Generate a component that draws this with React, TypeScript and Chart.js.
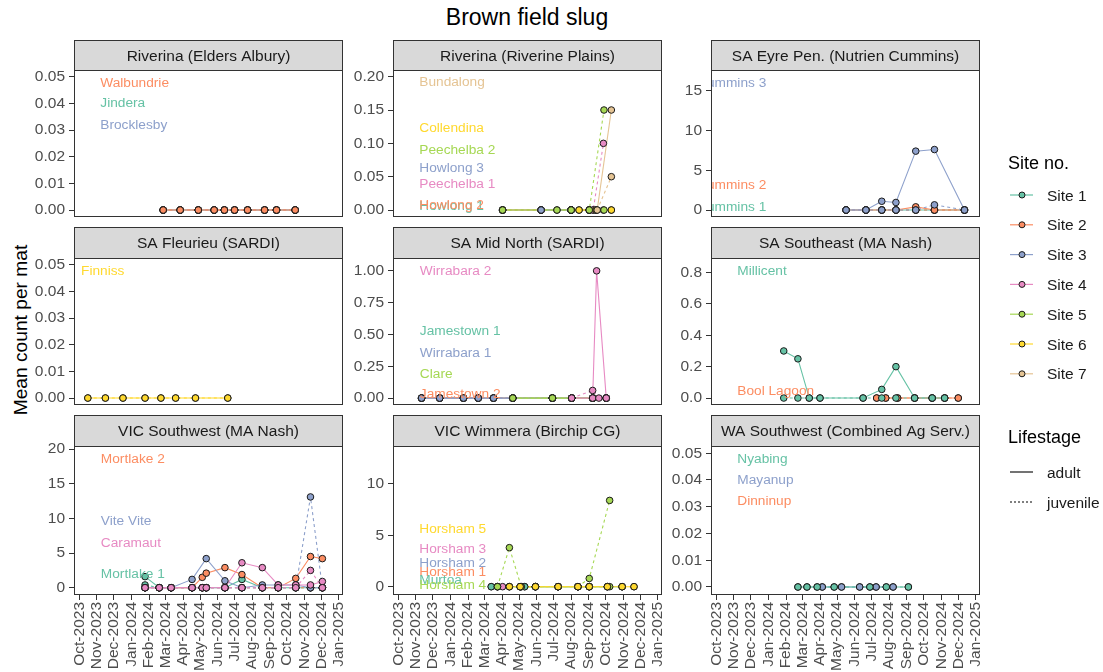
import React, { useEffect, useRef } from 'react';
import { Chart, registerables } from 'chart.js';

Chart.register(...registerables);

const FONT = '"Liberation Sans", Arial, Helvetica, sans-serif';

// ---------- shared scales ----------
const siteNames = ['Site 1', 'Site 2', 'Site 3', 'Site 4', 'Site 5', 'Site 6', 'Site 7'];
const siteColors = ['#66C2A5', '#FC8D62', '#8DA0CB', '#E78AC3', '#A6D854', '#FFD92F', '#E5C494'];
const monthTicks = ['2023-10-01', '2023-11-01', '2023-12-01', '2024-01-01', '2024-02-01', '2024-03-01', '2024-04-01', '2024-05-01', '2024-06-01', '2024-07-01', '2024-08-01', '2024-09-01', '2024-10-01', '2024-11-01', '2024-12-01', '2025-01-01'];
const monthLabels = ['Oct-2023', 'Nov-2023', 'Dec-2023', 'Jan-2024', 'Feb-2024', 'Mar-2024', 'Apr-2024', 'May-2024', 'Jun-2024', 'Jul-2024', 'Aug-2024', 'Sep-2024', 'Oct-2024', 'Nov-2024', 'Dec-2024', 'Jan-2025'];

// ---------- Riverina (Elders Albury) ----------
const albDates = ['2024-02-26', '2024-03-27', '2024-04-28', '2024-05-26', '2024-06-13', '2024-07-01', '2024-07-24', '2024-08-23', '2024-09-13', '2024-10-16'];
const albCounts = [0, 0, 0, 0, 0, 0, 0, 0, 0, 0];

// ---------- Riverina (Riverine Plains) ----------
const rpDates = ['2024-04-02', '2024-06-09', '2024-08-01', '2024-09-02'];
const rpZeros = [0, 0, 0, 0];
const rp3Dates = ['2024-06-09', '2024-08-01'];
const rp3Zeros = [0, 0];
const rp4Dates = ['2024-08-01', '2024-09-09', '2024-09-27'];
const rp4Adult = [0, 0, 0];
const rp4Juv = [0, 0, 0.1];
const rp5Dates = ['2024-04-02', '2024-07-07', '2024-08-01', '2024-09-02', '2024-09-28'];
const rp5Adult = [0, 0, 0, 0, 0];
const rp5Juv = [0, 0, 0, 0, 0.15];
const rp6Dates = ['2024-08-15', '2024-09-14', '2024-10-11'];
const rp6Zeros = [0, 0, 0];
const rp7Dates = ['2024-09-16', '2024-10-11'];
const rp7Adult = [0, 0.15];
const rp7Juv = [0, 0.05];

// ---------- SA Eyre Pen. (Nutrien Cummins) ----------
const eyDates = ['2024-05-17', '2024-06-21', '2024-07-19', '2024-08-13', '2024-09-17', '2024-10-20', '2024-12-12'];
const eyZeros = [0, 0, 0, 0, 0, 0, 0];
const ey2Adult = [0, 0, 0, 0, 0.4, 0, 0];
const ey3Adult = [0, 0, 1.1, 0.95, 7.4, 7.6, 0];
const ey3Juv = [0, 0, 0, 0, 0, 0.65, 0];

// ---------- SA Fleurieu (SARDI) ----------
const flDates = ['2023-10-16', '2023-11-16', '2023-12-17', '2024-01-25', '2024-02-22', '2024-03-19', '2024-04-23', '2024-06-19'];
const flCounts = [0, 0, 0, 0, 0, 0, 0, 0];

// ---------- SA Mid North (SARDI) ----------
const mnDates = ['2023-11-11', '2023-12-13', '2024-01-24', '2024-02-19', '2024-03-17', '2024-04-20', '2024-06-29', '2024-08-02', '2024-09-08', '2024-10-02'];
const mnZeros = [0, 0, 0, 0, 0, 0, 0, 0, 0, 0];
const mn4AdultDates = ['2024-08-02', '2024-09-08', '2024-09-15', '2024-10-02'];
const mn4Adult = [0, 0, 1.0, 0];
const mn4JuvDates = ['2024-08-02', '2024-09-08', '2024-09-19', '2024-10-02'];
const mn4Juv = [0, 0.06, 0, 0];
const mn5Dates = ['2024-04-20', '2024-06-29', '2024-08-02', '2024-09-08'];
const mn5Zeros = [0, 0, 0, 0];

// ---------- SA Southeast (MA Nash) ----------
const seDates = ['2024-01-28', '2024-02-22', '2024-03-13', '2024-04-01', '2024-06-16', '2024-07-19', '2024-08-13', '2024-09-15', '2024-10-16', '2024-11-07'];
const se1Adult = [0.3, 0.25, 0, 0, 0, 0.055, 0.2, 0, 0, 0];
const se1Juv = [0, 0, 0, 0, 0, 0, 0, 0, 0, 0];
const se2Dates = ['2024-07-10', '2024-07-26', '2024-08-16', '2024-09-15', '2024-10-16', '2024-11-07', '2024-12-01'];
const se2Zeros = [0, 0, 0, 0, 0, 0, 0];

// ---------- VIC Southwest (MA Nash) ----------
const swDates = ['2024-01-25', '2024-02-19', '2024-03-11', '2024-04-17', '2024-05-05', '2024-05-12', '2024-06-14', '2024-07-14', '2024-08-19', '2024-09-16', '2024-10-17', '2024-11-12', '2024-12-03'];
const sw1Adult = [1.6, 0, 0, 0, 0, 0, 0, 1.2, 0, 0, 0, 0, 0];
const sw1Juv = [0.4, 0, 0, 0, 0, 0, 0, 0, 0, 0, 0, 0, 0];
const sw2Adult = [0, 0, 0, 0, 1.5, 2.1, 2.9, 1.9, 0, 0, 1.35, 4.5, 4.2];
const sw2Juv = [0, 0, 0, 0, 0, 0, 0, 0, 0, 0, 0, 0, 0];
const sw3Dates = ['2024-01-25', '2024-02-19', '2024-03-11', '2024-04-17', '2024-05-12', '2024-06-14', '2024-07-14', '2024-08-19', '2024-09-16', '2024-10-17', '2024-11-12', '2024-12-03'];
const sw3Adult = [0, 0, 0, 1.2, 4.2, 1.0, 0, 0.4, 0.4, 0.4, 0, 0];
const sw3Juv = [0, 0, 0, 0, 0, 0, 0, 0, 0, 0, 13.1, 0];
const sw4Adult = [0, 0, 0, 0, 0, 0, 0, 3.6, 2.9, 0.4, 0.4, 0.4, 0.9];
const sw4Juv = [0, 0, 0, 0, 0, 0, 0, 0, 0, 0, 0, 2.5, 0];

// ---------- VIC Wimmera (Birchip CG) ----------
const wm1Dates = ['2024-03-13', '2024-03-24', '2024-05-03', '2024-05-11', '2024-05-30', '2024-07-09', '2024-08-13', '2024-09-02', '2024-10-04', '2024-10-30'];
const wm1Zeros = [0, 0, 0, 0, 0, 0, 0, 0, 0, 0];
const wm4Dates = ['2024-04-02'];
const wm4Zeros = [0];
const wm5Dates = ['2024-03-24', '2024-04-14', '2024-05-05', '2024-05-30', '2024-07-09', '2024-08-13', '2024-09-02', '2024-10-08'];
const wm5Adult = [0, 0, 0, 0, 0, 0, 0, 0];
const wm5Juv = [0, 3.8, 0, 0, 0, 0, 0.8, 8.4];
const wm6Dates = ['2024-04-14', '2024-05-03', '2024-05-30', '2024-07-09', '2024-08-13', '2024-09-02', '2024-10-04', '2024-10-30', '2024-11-20'];
const wm6Zeros = [0, 0, 0, 0, 0, 0, 0, 0, 0];

// ---------- WA Southwest (Combined Ag Serv.) ----------
const wa1Dates = ['2024-02-22', '2024-03-09', '2024-03-27', '2024-04-26', '2024-06-28', '2024-07-27', '2024-09-04'];
const wa1Zeros = [0, 0, 0, 0, 0, 0, 0];
const wa3Dates = ['2024-04-05', '2024-05-09', '2024-06-10', '2024-07-09', '2024-08-08'];
const wa3Zeros = [0, 0, 0, 0, 0];

// ---------- types ----------
type Stage = 'adult' | 'juvenile';
type Series = { site: number; stage: Stage; dates: string[]; values: number[] };
type SiteLabel = { text: string; site: number; date: string; y: number };
type Panel = {
  title: string; row: number; col: number;
  yMin: number; yMax: number; yTicks: number[]; yDigits: number;
  series: Series[]; labels: SiteLabel[];
};

const s = (site: number, stage: Stage, dates: string[], values: number[]): Series => ({ site, stage, dates, values });
const lab = (text: string, site: number, date: string, y: number): SiteLabel => ({ text, site, date, y });

const tick005 = [0, 0.01, 0.02, 0.03, 0.04, 0.05];

const panels: Panel[] = [
  {
    title: 'Riverina (Elders Albury)', row: 0, col: 0, yMin: -0.0025, yMax: 0.0525, yTicks: tick005, yDigits: 2,
    series: [
      s(1, 'adult', albDates, albCounts), s(1, 'juvenile', albDates, albCounts),
      s(3, 'adult', albDates, albCounts), s(3, 'juvenile', albDates, albCounts),
      s(2, 'adult', albDates, albCounts), s(2, 'juvenile', albDates, albCounts),
    ],
    labels: [lab('Walbundrie', 2, '2023-11-07', 0.0477), lab('Jindera', 1, '2023-11-07', 0.0401), lab('Brocklesby', 3, '2023-11-07', 0.0317)],
  },
  {
    title: 'Riverina (Riverine Plains)', row: 0, col: 1, yMin: -0.01, yMax: 0.21, yTicks: [0, 0.05, 0.1, 0.15, 0.2], yDigits: 2,
    series: [
      s(1, 'adult', rpDates, rpZeros), s(1, 'juvenile', rpDates, rpZeros),
      s(2, 'adult', rpDates, rpZeros), s(2, 'juvenile', rpDates, rpZeros),
      s(3, 'adult', rp3Dates, rp3Zeros), s(3, 'juvenile', rp3Dates, rp3Zeros),
      s(4, 'adult', rp4Dates, rp4Adult), s(4, 'juvenile', rp4Dates, rp4Juv),
      s(5, 'adult', rp5Dates, rp5Adult), s(5, 'juvenile', rp5Dates, rp5Juv),
      s(6, 'adult', rp6Dates, rp6Zeros), s(6, 'juvenile', rp6Dates, rp6Zeros),
      s(7, 'adult', rp7Dates, rp7Adult), s(7, 'juvenile', rp7Dates, rp7Juv),
    ],
    labels: [
      lab('Bundalong', 7, '2023-11-07', 0.191), lab('Collendina', 6, '2023-11-07', 0.122), lab('Peechelba 2', 5, '2023-11-07', 0.089),
      lab('Howlong 3', 3, '2023-11-07', 0.063), lab('Peechelba 1', 4, '2023-11-07', 0.038), lab('Howlong 1', 1, '2023-11-07', 0.0055),
      lab('Howlong 2', 2, '2023-11-07', 0.0065),
    ],
  },
  {
    title: 'SA Eyre Pen. (Nutrien Cummins)', row: 0, col: 2, yMin: -0.84, yMax: 17.6, yTicks: [0, 5, 10, 15], yDigits: 0,
    series: [
      s(1, 'adult', eyDates, eyZeros), s(1, 'juvenile', eyDates, eyZeros),
      s(2, 'adult', eyDates, ey2Adult), s(2, 'juvenile', eyDates, eyZeros),
      s(3, 'adult', eyDates, ey3Adult), s(3, 'juvenile', eyDates, ey3Juv),
    ],
    labels: [lab('Cummins 3', 3, '2023-08-28', 16.0), lab('Cummins 2', 2, '2023-08-28', 3.1), lab('Cummins 1', 1, '2023-08-28', 0.35)],
  },
  {
    title: 'SA Fleurieu (SARDI)', row: 1, col: 0, yMin: -0.0025, yMax: 0.0525, yTicks: tick005, yDigits: 2,
    series: [s(6, 'adult', flDates, flCounts), s(6, 'juvenile', flDates, flCounts)],
    labels: [lab('Finniss', 6, '2023-10-04', 0.0477)],
  },
  {
    title: 'SA Mid North (SARDI)', row: 1, col: 1, yMin: -0.052, yMax: 1.101, yTicks: [0, 0.25, 0.5, 0.75, 1.0], yDigits: 2,
    series: [
      s(1, 'adult', mnDates, mnZeros), s(1, 'juvenile', mnDates, mnZeros),
      s(2, 'adult', mnDates, mnZeros), s(2, 'juvenile', mnDates, mnZeros),
      s(3, 'adult', mnDates, mnZeros), s(3, 'juvenile', mnDates, mnZeros),
      s(5, 'adult', mn5Dates, mn5Zeros), s(5, 'juvenile', mn5Dates, mn5Zeros),
      s(4, 'adult', mn4AdultDates, mn4Adult), s(4, 'juvenile', mn4JuvDates, mn4Juv),
    ],
    labels: [
      lab('Wirrabara 2', 4, '2023-11-08', 1.0), lab('Jamestown 1', 1, '2023-11-08', 0.522), lab('Wirrabara 1', 3, '2023-11-08', 0.353),
      lab('Clare', 5, '2023-11-08', 0.189), lab('Jamestown 2', 2, '2023-11-08', 0.028),
    ],
  },
  {
    title: 'SA Southeast (MA Nash)', row: 1, col: 2, yMin: -0.0425, yMax: 0.8925, yTicks: [0, 0.2, 0.4, 0.6, 0.8], yDigits: 1,
    series: [
      s(2, 'adult', se2Dates, se2Zeros), s(2, 'juvenile', se2Dates, se2Zeros),
      s(1, 'adult', seDates, se1Adult), s(1, 'juvenile', seDates, se1Juv),
    ],
    labels: [lab('Millicent', 1, '2023-11-07', 0.808), lab('Bool Lagoon', 2, '2023-11-07', 0.042)],
  },
  {
    title: 'VIC Southwest (MA Nash)', row: 2, col: 0, yMin: -1.05, yMax: 20.45, yTicks: [0, 5, 10, 15, 20], yDigits: 0,
    series: [
      s(1, 'adult', swDates, sw1Adult), s(1, 'juvenile', swDates, sw1Juv),
      s(2, 'adult', swDates, sw2Adult), s(2, 'juvenile', swDates, sw2Juv),
      s(3, 'adult', sw3Dates, sw3Adult), s(3, 'juvenile', sw3Dates, sw3Juv),
      s(4, 'adult', swDates, sw4Adult), s(4, 'juvenile', swDates, sw4Juv),
    ],
    labels: [lab('Mortlake 2', 2, '2023-11-08', 18.5), lab('Vite Vite', 3, '2023-11-08', 9.6), lab('Caramaut', 4, '2023-11-08', 6.4), lab('Mortlake 1', 1, '2023-11-08', 2.0)],
  },
  {
    title: 'VIC Wimmera (Birchip CG)', row: 2, col: 1, yMin: -0.81, yMax: 13.7, yTicks: [0, 5, 10], yDigits: 0,
    series: [
      s(1, 'adult', wm1Dates, wm1Zeros), s(1, 'juvenile', wm1Dates, wm1Zeros),
      s(4, 'adult', wm4Dates, wm4Zeros),
      s(5, 'adult', wm5Dates, wm5Adult), s(5, 'juvenile', wm5Dates, wm5Juv),
      s(6, 'adult', wm6Dates, wm6Zeros), s(6, 'juvenile', wm6Dates, wm6Zeros),
    ],
    labels: [
      lab('Horsham 5', 6, '2023-11-07', 5.6), lab('Horsham 3', 4, '2023-11-07', 3.6), lab('Horsham 2', 3, '2023-11-07', 2.3),
      lab('Horsham 1', 2, '2023-11-07', 1.4), lab('Murtoa', 1, '2023-11-07', 0.6), lab('Horsham 4', 5, '2023-11-07', 0.17),
    ],
  },
  {
    title: 'WA Southwest (Combined Ag Serv.)', row: 2, col: 2, yMin: -0.003, yMax: 0.0527, yTicks: tick005, yDigits: 2,
    series: [
      s(3, 'adult', wa3Dates, wa3Zeros), s(3, 'juvenile', wa3Dates, wa3Zeros),
      s(1, 'adult', wa1Dates, wa1Zeros), s(1, 'juvenile', wa1Dates, wa1Zeros),
    ],
    labels: [lab('Nyabing', 1, '2023-11-07', 0.0478), lab('Mayanup', 3, '2023-11-07', 0.040), lab('Dinninup', 2, '2023-11-07', 0.0319)],
  },
];

// ---------- layout geometry (page pixels) ----------
const colLeft = [74, 393, 711];
const colRight = [343, 662, 980];
const rowStripTop = [40, 227, 415];
const rowPlotTop = [70, 258, 446];
const rowPlotBottom = [218, 406, 595];
const Y_AXIS_W = 70;
const X_AXIS_H = 77;
const PAD_RIGHT = 30;

const day = (d: string) => Date.UTC(+d.slice(0, 4), +d.slice(5, 7) - 1, +d.slice(8, 10)) / 86400000;
const X_MIN = day('2023-09-21') + 0.6;
const X_MAX = day('2025-01-08') + 0.4;

function PanelChart({ panel }: { panel: Panel }) {
  const ref = useRef<HTMLCanvasElement | null>(null);
  const L = colLeft[panel.col];
  const R = colRight[panel.col];
  const T = rowStripTop[panel.row];
  const P = rowPlotTop[panel.row];
  const B = rowPlotBottom[panel.row];
  const bottomRow = panel.row === 2;
  const left = L - Y_AXIS_W;
  const top = T - 2;
  const padBottom = bottomRow ? 0 : 12;
  const width = R - L + Y_AXIS_W + PAD_RIGHT;
  const height = B - top + (bottomRow ? X_AXIS_H : padBottom);

  useEffect(() => {
    if (!ref.current) return;
    const lines: any[] = [];
    const points: any[] = [];
    panel.series.forEach((sr) => {
      const color = siteColors[sr.site - 1];
      const data = sr.dates.map((d, i) => ({ x: day(d), y: sr.values[i] }));
      lines.push({
        data, borderColor: color, borderWidth: 1.1, borderDash: sr.stage === 'juvenile' ? [3, 3] : [],
        pointRadius: 0, fill: false, tension: 0, showLine: true,
      });
      points.push({
        data, showLine: false, pointRadius: 3.3, pointHoverRadius: 3.3, pointBackgroundColor: color,
        pointBorderColor: '#1a1a1a', pointBorderWidth: 1, borderColor: color,
      });
    });
    const paint = [...lines, ...points];
    const datasets = paint.map((ds, i) => ({ ...ds, order: paint.length - i }));

    const facetPlugin = {
      id: 'facet',
      afterDatasetsDraw(chart: any) {
        const { ctx, chartArea: a, scales } = chart;
        ctx.save();
        ctx.beginPath();
        ctx.rect(a.left, a.top, a.right - a.left, a.bottom - a.top);
        ctx.clip();
        ctx.font = `13.7px ${FONT}`;
        ctx.textAlign = 'left';
        ctx.textBaseline = 'middle';
        panel.labels.forEach((lb) => {
          ctx.fillStyle = siteColors[lb.site - 1];
          ctx.fillText(lb.text, scales.x.getPixelForValue(day(lb.date)), scales.y.getPixelForValue(lb.y));
        });
        ctx.restore();
      },
      afterDraw(chart: any) {
        const { ctx, chartArea: a } = chart;
        const l = Math.round(a.left) + 0.5;
        const r = Math.round(a.right) - 0.5;
        const t = Math.round(a.top) + 0.5;
        const b = Math.round(a.bottom) - 0.5;
        const st = t - (P - T);
        ctx.save();
        ctx.fillStyle = '#D9D9D9';
        ctx.fillRect(l, st, r - l, t - st);
        ctx.strokeStyle = '#333333';
        ctx.lineWidth = 1;
        ctx.strokeRect(l, st, r - l, t - st);
        ctx.strokeRect(l, t, r - l, b - t);
        ctx.fillStyle = '#1A1A1A';
        ctx.font = `15.5px ${FONT}`;
        ctx.textAlign = 'center';
        ctx.textBaseline = 'middle';
        ctx.fillText(panel.title, (l + r) / 2, (st + t) / 2 + 1);
        ctx.restore();
      },
    };

    const tickFont = { family: FONT, size: 15.5 };
    const chart = new Chart(ref.current, {
      type: 'line',
      data: { datasets },
      options: {
        animation: false,
        responsive: false,
        maintainAspectRatio: false,
        events: [],
        layout: { padding: { left: 0, top: P - top, right: PAD_RIGHT, bottom: padBottom } },
        plugins: { legend: { display: false }, tooltip: { enabled: false }, title: { display: false } },
        scales: {
          x: bottomRow
            ? {
                type: 'linear', min: X_MIN, max: X_MAX,
                afterBuildTicks: (ax: any) => { ax.ticks = monthTicks.map((d) => ({ value: day(d) })); },
                afterFit: (ax: any) => { ax.height = X_AXIS_H; },
                ticks: {
                  autoSkip: false, maxRotation: 90, minRotation: 90, padding: 2, color: '#4D4D4D', font: tickFont,
                  callback: (_v: any, i: number) => monthLabels[i],
                },
                grid: { drawOnChartArea: false, drawTicks: true, tickLength: 5, color: '#333333', lineWidth: 1 },
                border: { display: false },
              }
            : { type: 'linear', min: X_MIN, max: X_MAX, display: false },
          y: {
            type: 'linear', min: panel.yMin, max: panel.yMax,
            afterBuildTicks: (ax: any) => { ax.ticks = panel.yTicks.map((v) => ({ value: v })); },
            afterFit: (ax: any) => { ax.width = Y_AXIS_W; },
            ticks: {
              padding: 4, color: '#4D4D4D', font: tickFont,
              callback: (v: any) => Number(v).toFixed(panel.yDigits),
            },
            grid: { drawOnChartArea: false, drawTicks: true, tickLength: 5, color: '#333333', lineWidth: 1 },
            border: { display: false },
          },
        },
      } as any,
      plugins: [facetPlugin],
    });
    return () => chart.destroy();
  }, []);

  return (
    <canvas
      ref={ref}
      width={width}
      height={height}
      style={{ position: 'absolute', left, top, width, height }}
    />
  );
}

function Legend() {
  const txt = { fontFamily: FONT, fill: '#1A1A1A' } as const;
  return (
    <svg style={{ position: 'absolute', left: 990, top: 140 }} width={113} height={380}>
      <text x={18} y={23} fontSize={18} dominantBaseline="central" {...txt} fill="#000">Site no.</text>
      {siteNames.map((n, i) => {
        const y = 55 + 29.8 * i;
        return (
          <g key={n}>
            <line x1={20} x2={43} y1={y} y2={y} stroke={siteColors[i]} strokeWidth={1.2} />
            <circle cx={32} cy={y} r={3} fill={siteColors[i]} stroke="#1a1a1a" strokeWidth={1} />
            <text x={57} y={y} fontSize={15.5} dominantBaseline="central" {...txt}>{n}</text>
          </g>
        );
      })}
      <text x={18} y={297} fontSize={18} dominantBaseline="central" {...txt} fill="#000">Lifestage</text>
      <line x1={20} x2={43} y1={332} y2={332} stroke="#000" strokeWidth={1.1} />
      <text x={57} y={332} fontSize={15.5} dominantBaseline="central" {...txt}>adult</text>
      <line x1={20} x2={43} y1={362} y2={362} stroke="#000" strokeWidth={1.1} strokeDasharray="2 2" />
      <text x={57} y={362} fontSize={15.5} dominantBaseline="central" {...txt}>juvenile</text>
    </svg>
  );
}

export default function App() {
  return (
    <div style={{ position: 'absolute', left: 0, top: 0, width: 1103, height: 672, background: '#fff', overflow: 'hidden', fontFamily: FONT }}>
      <div style={{ position: 'absolute', left: 527, top: 4, transform: 'translateX(-50%)', fontSize: 23, lineHeight: '27px', color: '#000', whiteSpace: 'nowrap' }}>
        Brown field slug
      </div>
      <div style={{ position: 'absolute', left: 21, top: 330, transform: 'translate(-50%, -50%) rotate(-90deg)', fontSize: 19.2, color: '#000', whiteSpace: 'nowrap' }}>
        Mean count per mat
      </div>
      {panels.map((p) => (
        <PanelChart key={p.title} panel={p} />
      ))}
      <Legend />
    </div>
  );
}
